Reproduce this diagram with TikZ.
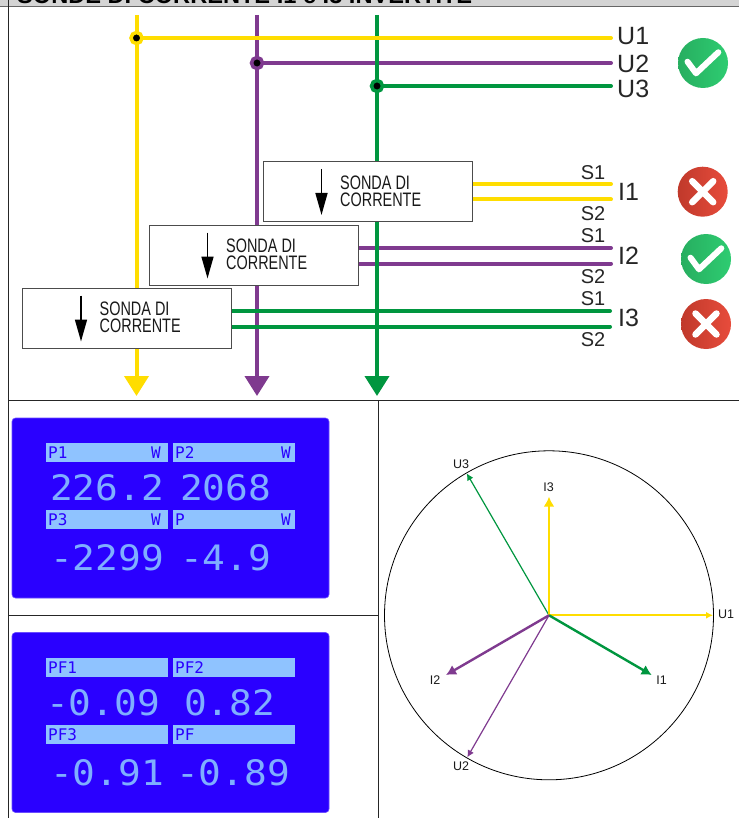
\documentclass[tikz,border=0pt]{standalone}
\usepackage{fontspec}
\setmainfont{Liberation Sans}
\newfontfamily\condfont[FakeStretch=0.74]{Liberation Sans}
\newfontfamily\lcdfont{DejaVu Sans Mono}
\newfontfamily\lcdbig[FakeStretch=1.08]{DejaVu Sans Mono}
\usetikzlibrary{arrows.meta}
\definecolor{fase1}{HTML}{FFDD00}
\definecolor{fase2}{HTML}{7F3A8F}
\definecolor{fase3}{HTML}{00963F}
\definecolor{lcdblue}{HTML}{2A00FF}
\definecolor{lcdbar}{HTML}{8FC3FF}
\definecolor{lcdnum}{HTML}{7FAFFF}
\definecolor{okl}{HTML}{27AE60}
\definecolor{okr}{HTML}{2ECC71}
\definecolor{kol}{HTML}{C0392B}
\definecolor{kor}{HTML}{E74C3C}
\tikzset{
  busline/.style={line width=4pt,line cap=round},
  mainline/.style={line width=4pt,-{Triangle[length=20pt,width=24pt]}},
  framed/.style={line width=1pt,black!85},
  probebox/.style={draw=black!70,fill=white,line width=1pt,minimum width=209pt,minimum height=60pt,inner sep=0pt},
  probetext/.style={anchor=west,align=left,inner sep=0pt,text=black!90,font=\condfont\fontsize{19.5}{17}\selectfont},
  probearrow/.style={line width=1.6pt,-{Triangle[length=22pt,width=12pt]}},
  dotu/.style={circle,fill=black,line width=3.5pt,minimum size=11pt,inner sep=0pt},
  labs/.style={inner sep=0pt,text=black!85,font=\fontsize{20}{20}\selectfont},
  labch/.style={anchor=west,inner sep=0pt,text=black!85,font=\fontsize{25}{25}\selectfont},
  okicon/.style={circle,minimum size=50pt,inner sep=0pt,left color=okl,right color=okr,
    path picture={\draw[white,line width=6pt,line cap=round,line join=round] ([shift={(-15.5,-1.3)}]path picture bounding box.center) -- ([shift={(-7,10.3)}]path picture bounding box.center) -- ([shift={(15.3,-10.7)}]path picture bounding box.center);}},
  koicon/.style={circle,minimum size=50pt,inner sep=0pt,left color=kol,right color=kor,
    path picture={\draw[white,line width=6.5pt,line cap=round] ([shift={(-10.5,-10.5)}]path picture bounding box.center) -- ([shift={(10.5,10.5)}]path picture bounding box.center); \draw[white,line width=6.5pt,line cap=round] ([shift={(10.5,-10.5)}]path picture bounding box.center) -- ([shift={(-10.5,10.5)}]path picture bounding box.center);}},
  lcdpanel/.style={draw=lcdblue!70!white,fill=lcdblue,rounded corners=3.5pt,line width=0.6pt,minimum width=317pt,minimum height=180pt,inner sep=0pt},
  lcdhead/.style={fill=lcdbar,minimum width=122pt,minimum height=19pt,inner sep=0pt},
  lcdtag/.style={inner sep=0pt,text=lcdblue,font=\lcdfont\fontsize{16}{16}\selectfont},
  lcdval/.style={anchor=west,inner sep=0pt,text=lcdnum,font=\lcdbig\fontsize{35}{37}\selectfont},
  vecthin/.style={line width=1.2pt,-{Latex[length=7pt,width=7pt]}},
  vecthick/.style={line width=2.4pt,-{Latex[length=10pt,width=11pt]}},
  labvec/.style={inner sep=0pt,text=black!90,font=\fontsize{12.5}{13}\selectfont}
}
\begin{document}
\begin{tikzpicture}[x=1pt,y=-1pt]
\useasboundingbox (0,0) rectangle (739,818);

\coordinate (bandl) at (0,0); \coordinate (bandr) at (739,6.5);
\fill[black!17] (bandl) rectangle (bandr);
\node[anchor=base west,inner sep=0pt,font=\bfseries\fontsize{23.6}{24}\selectfont] (title) at (17,4) {SONDE DI CORRENTE I1 e I3 INVERTITE};
\coordinate (framel) at (0,6.5);
\coordinate (frametop) at (8.5,0); \coordinate (framebot) at (8.5,818);
\coordinate (midl) at (8.5,400); \coordinate (midr) at (739,400);
\coordinate (splitt) at (378,400); \coordinate (splitb) at (378,818);
\coordinate (lowl) at (8.5,615); \coordinate (lowr) at (378,615);
\draw[line width=1pt,black!60] (framel) -- (bandr);
\draw[framed] (frametop) -- (framebot); \draw[framed] (midl) -- (midr); \draw[framed] (splitt) -- (splitb); \draw[framed] (lowl) -- (lowr);

\coordinate (top1) at (136.5,15); \coordinate (bot1) at (136.5,396);
\coordinate (top2) at (257,15); \coordinate (bot2) at (257,396);
\coordinate (top3) at (377,15); \coordinate (bot3) at (377,396);
\coordinate (endu1) at (611,38); \coordinate (endu2) at (611,63); \coordinate (endu3) at (611,86);
\coordinate (jun1) at (136.5,38); \coordinate (jun2) at (257,63); \coordinate (jun3) at (377,86);

\draw[mainline,fase1] (top1) -- (bot1);
\draw[mainline,fase2] (top2) -- (bot2);
\draw[busline,fase2] (jun2) -- (endu2);
\coordinate (i2a) at (358,248); \coordinate (i2ae) at (611,248); \coordinate (i2b) at (358,263.5); \coordinate (i2be) at (611,263.5);
\draw[busline,fase2] (i2a) -- (i2ae); \draw[busline,fase2] (i2b) -- (i2be);
\draw[mainline,fase3] (top3) -- (bot3);
\draw[busline,fase3] (jun3) -- (endu3);
\draw[busline,fase1] (jun1) -- (endu1);
\node[dotu,draw=fase1] (dotu1) at (jun1) {};
\node[dotu,draw=fase2] (dotu2) at (jun2) {};
\node[dotu,draw=fase3] (dotu3) at (jun3) {};

\coordinate (i1a) at (472,184); \coordinate (i1ae) at (611,184); \coordinate (i1b) at (472,199.5); \coordinate (i1be) at (611,199.5);
\coordinate (i3a) at (231,311); \coordinate (i3ae) at (610,311); \coordinate (i3b) at (231,326.5); \coordinate (i3be) at (610,326.5);
\draw[busline,fase1] (i1a) -- (i1ae); \draw[busline,fase1] (i1b) -- (i1be);
\draw[busline,fase3] (i3a) -- (i3ae); \draw[busline,fase3] (i3b) -- (i3be);

\node[probebox] (boxi1) at (367.5,192) {};
\node[probebox] (boxi2) at (253.5,255.5) {};
\node[probebox] (boxi3) at (126.5,318.5) {};
\node[probetext] (txti1) at (340,191.5) {SONDA DI\\CORRENTE};
\node[probetext] (txti2) at (226,254.5) {SONDA DI\\CORRENTE};
\node[probetext] (txti3) at (99.5,317.5) {SONDA DI\\CORRENTE};
\coordinate (ari1a) at (321.5,169); \coordinate (ari1b) at (321.5,215);
\coordinate (ari2a) at (207.5,232.5); \coordinate (ari2b) at (207.5,278.5);
\coordinate (ari3a) at (81,295.5); \coordinate (ari3b) at (81,341.5);
\draw[probearrow] (ari1a) -- (ari1b); \draw[probearrow] (ari2a) -- (ari2b); \draw[probearrow] (ari3a) -- (ari3b);

\node[labch] (labu1) at (617,36) {U1};
\node[labch] (labu2) at (617,64) {U2};
\node[labch] (labu3) at (617,88.5) {U3};
\node[labch] (labi1) at (618,192) {I1};
\node[labch] (labi2) at (618,255.5) {I2};
\node[labch] (labi3) at (618,317.5) {I3};
\node[labs] (s1i1) at (593,172.5) {S1}; \node[labs] (s2i1) at (593,214) {S2};
\node[labs] (s1i2) at (593,235.5) {S1}; \node[labs] (s2i2) at (593,277) {S2};
\node[labs] (s1i3) at (593,298.5) {S1}; \node[labs] (s2i3) at (593,340) {S2};

\node[okicon] (oku) at (703,63) {};
\node[koicon] (koi1) at (702.7,191.7) {};
\node[okicon] (oki2) at (706,259) {};
\node[koicon] (koi3) at (706,324) {};

\node[lcdpanel] (lcdp) at (170.5,508) {};
\node[lcdpanel] (lcdpf) at (170.5,722.5) {};
\node[lcdhead] (hp1) at (107,452.5) {}; \node[lcdhead] (hp2) at (234,452.5) {};
\node[lcdhead] (hp3) at (107,519.5) {}; \node[lcdhead] (hp) at (234,519.5) {};
\node[lcdhead] (hpf1) at (107,667.5) {}; \node[lcdhead] (hpf2) at (234,667.5) {};
\node[lcdhead] (hpf3) at (107,734.5) {}; \node[lcdhead] (hpf) at (234,734.5) {};
\node[lcdval] (vp1) at (50,488) {226.2}; \node[lcdval] (vp2) at (180,488) {2068};
\node[lcdval] (vp3) at (50,558) {-2299}; \node[lcdval] (vp) at (180,558) {-4.9};
\node[lcdval] (vpf1) at (46,703) {-0.09}; \node[lcdval] (vpf2) at (184,703) {0.82};
\node[lcdval] (vpf3) at (50,773) {-0.91}; \node[lcdval] (vpf) at (176,773) {-0.89};
\node[lcdtag,anchor=west] (tp1) at (48,452.5) {P1}; \node[lcdtag,anchor=east] (wp1) at (161,452.5) {W};
\node[lcdtag,anchor=west] (tp2) at (175,452.5) {P2}; \node[lcdtag,anchor=east] (wp2) at (291,452.5) {W};
\node[lcdtag,anchor=west] (tp3) at (48,519.5) {P3}; \node[lcdtag,anchor=east] (wp3) at (161,519.5) {W};
\node[lcdtag,anchor=west] (tp) at (175,519.5) {P}; \node[lcdtag,anchor=east] (wp) at (291,519.5) {W};
\node[lcdtag,anchor=west] (tpf1) at (48,667.5) {PF1}; \node[lcdtag,anchor=west] (tpf2) at (175,667.5) {PF2};
\node[lcdtag,anchor=west] (tpf3) at (48,734.5) {PF3}; \node[lcdtag,anchor=west] (tpf) at (175,734.5) {PF};

\node[draw,circle,line width=0.8pt,minimum size=329pt,inner sep=0pt] (cerchio) at (549,615.3) {};
\coordinate (orig) at (549,615.3);
\coordinate (tipu1) at (713,615.3); \coordinate (tipu2) at (467.3,757.3); \coordinate (tipu3) at (466.7,473.3);
\coordinate (tipi1) at (651.7,675); \coordinate (tipi2) at (446,675); \coordinate (tipi3) at (549,496.7);
\draw[vecthin,line width=1.7pt,fase1] (orig) -- (tipu1); \draw[vecthin,fase3] (orig) -- (tipu3); \draw[vecthin,fase2] (orig) -- (tipu2);
\draw[vecthick,fase1] (orig) -- (tipi3); \draw[vecthick,fase3] (orig) -- (tipi1); \draw[vecthick,fase2] (orig) -- (tipi2);
\node[labvec] (vu1) at (726,614) {U1}; \node[labvec] (vu2) at (461,766) {U2}; \node[labvec] (vu3) at (461,464) {U3};
\node[labvec] (vi1) at (661.5,680) {I1}; \node[labvec] (vi2) at (435,680) {I2}; \node[labvec] (vi3) at (548.5,487) {I3};
\end{tikzpicture}
\end{document}
